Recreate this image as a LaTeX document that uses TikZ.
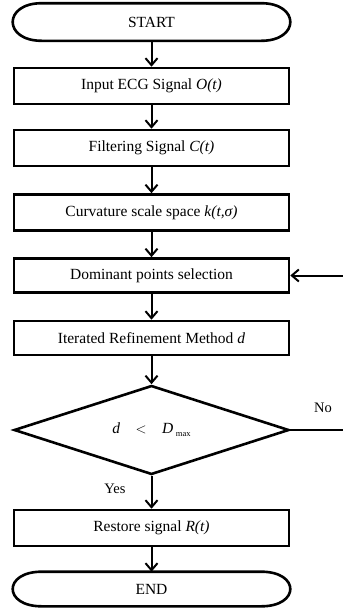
\documentclass[tikz,border=0pt]{standalone}
\usepackage{fontspec}
\setmainfont{Liberation Serif}
\usetikzlibrary{arrows.meta,shapes.geometric}
\begin{document}
\begin{tikzpicture}[x=1pt,y=-1pt,
  font=\fontsize{15.5}{18}\selectfont,
  flow/.style={line width=2.6pt, minimum width=275pt, inner sep=0pt},
  procbox/.style={flow, draw, rectangle, minimum height=36pt},
  terminal/.style={flow, rectangle, minimum height=35pt},
  decision/.style={flow, draw, diamond, minimum width=275pt, minimum height=89pt, aspect=3},
  outline/.style={line width=2.6pt, line join=round},
  arr/.style={-{Straight Barb[length=7pt,width=12pt,line width=2pt]}, line width=2pt},
  lbl/.style={font=\fontsize{14.5}{16}\selectfont}]
\useasboundingbox (0,0) rectangle (343,614);

\node[terminal] (start) at (151.5,22) {START};
\node[procbox] (input) at (151.5,86) {Input ECG Signal \textit{O(t)}};
\node[procbox] (filter) at (151.5,148) {Filtering Signal \textit{C(t)}};
\node[procbox] (css) at (151.5,212.5) {Curvature scale space \textit{k(t,σ)}};
\node[procbox, minimum height=34pt] (dom) at (151.5,275.5) {Dominant points selection};
\node[procbox, minimum height=34pt] (irm) at (151.5,338) {Iterated Refinement Method \textit{d}};
\node[decision] (dec) at (151.5,430) {\textit{d}\quad$<$\quad\textit{D}\,\raisebox{-3pt}{\fontsize{8.5}{9}\selectfont max}};
\node[procbox] (rest) at (151.5,528) {Restore signal \textit{R(t)}};
\node[terminal, minimum height=32pt] (stop) at (151.5,589) {END};

% terminals: straight top and bottom with half-elliptic ends (29pt deep)
\foreach \t in {start,stop}{
  \draw[outline] ([xshift=29pt]\t.north west) -- ([xshift=-29pt]\t.north east)
    .. controls ([xshift=9.7pt]\t.north east) and ([xshift=9.7pt]\t.south east)
    .. ([xshift=-29pt]\t.south east)
    -- ([xshift=29pt]\t.south west)
    .. controls ([xshift=-9.7pt]\t.south west) and ([xshift=-9.7pt]\t.north west)
    .. cycle;
}

\coordinate (noend) at (343,430);
\coordinate (loopin) at (343,275.5);

\draw[arr] (start) -- (input);
\draw[arr] (input) -- (filter);
\draw[arr] (filter) -- (css);
\draw[arr] (css) -- (dom);
\draw[arr] (dom) -- (irm);
\draw[arr] (irm) -- (dec);
\draw[arr] (dec) -- (rest);
\draw[arr] (rest) -- (stop);
\draw[line width=2pt] (dec.east) -- (noend);
\draw[arr] (loopin) -- (dom.east);

\node[lbl] (yes) at (115,489) {Yes};
\node[lbl] (no) at (323,408) {No};
\end{tikzpicture}
\end{document}
